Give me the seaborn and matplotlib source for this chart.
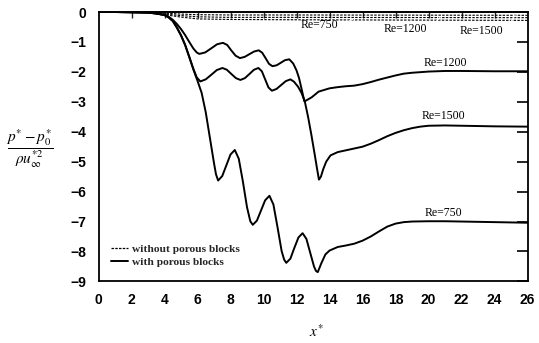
import matplotlib
matplotlib.use("Agg")
import matplotlib.pyplot as plt
from matplotlib.lines import Line2D
import seaborn as sns

# ---- pressure distribution along the channel, with porous blocks ----
x_re750 = [0, 1, 2, 3, 3.5, 4, 4.25, 4.5, 4.75, 5, 5.25, 5.5, 5.75, 6, 6.25, 6.5,
           6.75, 7, 7.12, 7.25, 7.5, 7.75, 8, 8.26, 8.5, 8.75, 9, 9.2, 9.35, 9.6,
           9.85, 10.1, 10.36, 10.6, 10.85, 11.1, 11.25, 11.38, 11.63, 11.87, 12.12,
           12.37, 12.6, 12.83, 13.06, 13.18, 13.29, 13.5, 13.75, 14, 14.5, 15, 15.5,
           16, 16.5, 17, 17.5, 18, 18.5, 19, 20, 21, 22, 23, 24, 25, 26]
y_re750 = [0, 0, -0.01, -0.02, -0.05, -0.1, -0.18, -0.3, -0.52, -0.78, -1.1, -1.5,
           -1.92, -2.3, -2.7, -3.35, -4.2, -5.05, -5.42, -5.63, -5.48, -5.12, -4.76,
           -4.61, -4.9, -5.66, -6.52, -6.99, -7.11, -6.97, -6.63, -6.29, -6.14, -6.43,
           -7.19, -7.99, -8.27, -8.38, -8.24, -7.88, -7.53, -7.39, -7.58, -8.04, -8.5,
           -8.65, -8.69, -8.4, -8.1, -7.97, -7.85, -7.8, -7.74, -7.64, -7.5, -7.33,
           -7.17, -7.07, -7.02, -7.0, -6.99, -6.99, -7.0, -7.01, -7.02, -7.03, -7.04]

x_re1200 = [0, 1, 2, 3, 3.5, 4, 4.25, 4.5, 4.75, 5, 5.25, 5.5, 5.75, 5.95, 6.11,
            6.47, 6.83, 7.18, 7.54, 7.8, 8.05, 8.31, 8.57, 8.86, 9.14, 9.43, 9.71,
            9.92, 10.13, 10.33, 10.54, 10.8, 11.05, 11.3, 11.56, 11.8, 12.0, 12.15,
            12.3, 12.48, 12.7, 12.92, 13.34, 14, 14.5, 15, 15.5, 16, 16.5, 17, 17.5,
            18, 18.5, 19, 20, 21, 22, 24, 26]
y_re1200 = [0, 0, -0.01, -0.02, -0.05, -0.1, -0.16, -0.26, -0.4, -0.57, -0.77, -1.0,
            -1.22, -1.35, -1.4, -1.35, -1.215, -1.08, -1.03, -1.1, -1.285, -1.46,
            -1.54, -1.5, -1.41, -1.32, -1.28, -1.36, -1.545, -1.73, -1.81, -1.78,
            -1.695, -1.61, -1.58, -1.72, -1.95, -2.2, -2.55, -2.99, -2.92, -2.85,
            -2.66, -2.55, -2.51, -2.48, -2.46, -2.41, -2.34, -2.26, -2.19, -2.12,
            -2.06, -2.03, -1.99, -1.97, -1.97, -1.98, -1.98]

x_re1500 = [0, 1, 2, 3, 3.5, 4, 4.25, 4.5, 4.75, 5, 5.25, 5.5, 5.75, 5.95, 6.17,
            6.5, 6.84, 7.17, 7.51, 7.78, 8.05, 8.33, 8.6, 8.87, 9.15, 9.42, 9.69,
            9.9, 10.1, 10.3, 10.51, 10.79, 11.07, 11.35, 11.63, 11.85, 12.1, 12.3,
            12.5, 12.7, 12.9, 13.1, 13.25, 13.36, 13.48, 13.62, 13.8, 14.06, 14.5,
            15, 15.5, 16, 16.5, 17, 17.5, 18, 18.5, 19, 19.5, 20, 21, 22, 24, 26]
y_re1500 = [0, 0, -0.01, -0.02, -0.05, -0.1, -0.18, -0.3, -0.52, -0.78, -1.1, -1.5,
            -1.9, -2.18, -2.32, -2.25, -2.095, -1.94, -1.87, -1.93, -2.07, -2.21,
            -2.27, -2.21, -2.07, -1.93, -1.87, -1.98, -2.25, -2.52, -2.63, -2.57,
            -2.44, -2.31, -2.25, -2.33, -2.5, -2.7, -2.98, -3.5, -4.1, -4.75, -5.25,
            -5.6, -5.5, -5.25, -5.0, -4.79, -4.68, -4.62, -4.56, -4.5, -4.4, -4.28,
            -4.15, -4.04, -3.95, -3.88, -3.83, -3.8, -3.79, -3.8, -3.82, -3.83]

# ---- empty channel (no porous blocks) ----
x_empty = [0, 3, 4, 5, 6, 8, 12, 26]
y_empty750 = [0, -0.02, -0.09, -0.17, -0.23, -0.25, -0.26, -0.28]
y_empty1200 = [0, -0.02, -0.07, -0.12, -0.16, -0.18, -0.18, -0.19]
y_empty1500 = [0, -0.01, -0.04, -0.07, -0.09, -0.1, -0.1, -0.11]

x_ticks = list(range(0, 27, 2))
x_tick_labels = [str(v) for v in x_ticks]
y_ticks = list(range(-9, 1))
y_tick_labels = [str(v).replace("-", "\u2212") for v in y_ticks]

curve_labels = ["Re=750", "Re=1200", "Re=1500"]
legend_labels = ["without porous blocks", "with porous blocks"]

sns.set_theme(style="white")
plt.rcParams["font.family"] = ["Liberation Serif", "DejaVu Serif"]
plt.rcParams["mathtext.fontset"] = "stix"

W, H = 539, 343
fig = plt.figure(figsize=(W / 100, H / 100), dpi=100)
fig.patch.set_facecolor("white")
ax = fig.add_axes([98.5 / W, 1 - 281.4 / H, 429 / W, 269.4 / H])
ax.set_facecolor("white")

for xs, ys in [(x_empty, y_empty750), (x_empty, y_empty1200), (x_empty, y_empty1500)]:
    sns.lineplot(x=xs, y=ys, ax=ax, color="black", lw=0.8, estimator=None,
                 sort=False, linestyle=(0, (2.2, 1.2)))

for xs, ys in [(x_re750, y_re750), (x_re1200, y_re1200), (x_re1500, y_re1500)]:
    sns.lineplot(x=xs, y=ys, ax=ax, color="black", lw=1.4, estimator=None, sort=False)

ax.set_xlim(0, 26)
ax.set_ylim(-9, 0)
ax.set_xticks(x_ticks, labels=x_tick_labels, fontfamily="Liberation Sans",
              fontweight="bold", fontsize=10)
ax.set_yticks(y_ticks, labels=y_tick_labels, fontfamily="Liberation Sans",
              fontweight="bold", fontsize=10)
ax.tick_params(axis="x", direction="in", length=6, width=1.2, pad=8, colors="black")
ax.tick_params(axis="y", direction="in", length=8, width=1.2, pad=9, right=True,
               colors="black")
for sp in ax.spines.values():
    sp.set_visible(True)
    sp.set_color("black")
    sp.set_linewidth(1.3)

top = ax.secondary_xaxis("top")
top.set_xticks(x_ticks[1:-1])
top.tick_params(direction="in", length=4, width=1.0, labeltop=False)
top.spines["top"].set_linewidth(1.3)

label_font = dict(fontfamily="Liberation Serif", fontsize=8.5, color="black")
# labels on the empty-channel curves, with leader lines
ax.annotate(curve_labels[0], xy=(15.4, -0.24), xytext=(13.4, -0.43), ha="center",
            va="center", arrowprops=dict(arrowstyle="-", lw=0.8, shrinkA=0, shrinkB=0,
                                         relpos=(1.0, 0.3)), **label_font)
ax.annotate(curve_labels[1], xy=(20.7, -0.18), xytext=(18.6, -0.56), ha="center",
            va="center", arrowprops=dict(arrowstyle="-", lw=0.8, shrinkA=0, shrinkB=0,
                                         relpos=(1.0, 0.3)), **label_font)
ax.annotate(curve_labels[2], xy=(25.25, -0.11), xytext=(23.2, -0.64), ha="center",
            va="center", arrowprops=dict(arrowstyle="-", lw=0.8, shrinkA=0, shrinkB=0,
                                         relpos=(1.0, 0.3)), **label_font)
# labels on the porous-block curves
ax.text(21.0, -1.70, curve_labels[1], ha="center", va="center", **label_font)
ax.text(20.9, -3.47, curve_labels[2], ha="center", va="center", **label_font)
ax.text(20.9, -6.72, curve_labels[0], ha="center", va="center", **label_font)

handles = [Line2D([], [], color="black", lw=0.9, linestyle=(0, (2, 1))),
           Line2D([], [], color="black", lw=1.4)]
ax.legend(handles, legend_labels, loc="lower left", bbox_to_anchor=(0.03, 0.055),
          frameon=False, prop=dict(family="Liberation Serif", weight="bold", size=8.2),
          handlelength=1.5, handletextpad=0.3, labelspacing=0.25, borderaxespad=0,
          borderpad=0)

fig.text(30 / W, 1 - 149 / H, r"$\dfrac{p^{*} - p_{0}^{*}}{\rho u_{\infty}^{*2}}$",
         ha="center", va="center", fontsize=11, color="black")
fig.text(316 / W, 1 - 332 / H, r"$x^{*}$", ha="center", va="center", fontsize=11,
         color="black")

fig.savefig("out.png", dpi=100, facecolor="white")
